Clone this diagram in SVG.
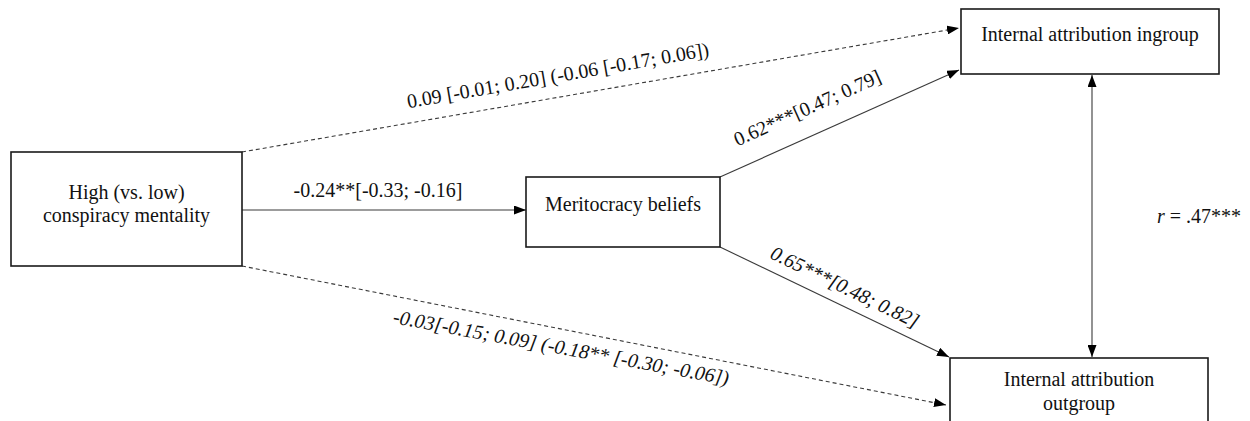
<svg xmlns="http://www.w3.org/2000/svg" width="1250" height="421" viewBox="0 0 1250 421">
<style>
.box{fill:#fff;stroke:#1a1a1a;stroke-width:1.6}
.t{font-family:"Liberation Serif","Times New Roman",serif;font-size:20px;fill:#111}
.c{text-anchor:middle}
.i{font-style:italic}
.ln{stroke:#3a3a3a;stroke-width:1.1;fill:none}
.d{stroke-dasharray:4 3}
</style>
<defs>
<marker id="ah" viewBox="0 0 12 9" refX="12" refY="4.5" markerWidth="12" markerHeight="9" markerUnits="userSpaceOnUse" orient="auto-start-reverse">
<path d="M0,0 L12,4.5 L0,9 z" fill="#000"/>
</marker>
</defs>
<rect width="1250" height="421" fill="#fff"/>
<g id="connectors">
<line class="ln" x1="242" y1="210" x2="526" y2="210" marker-end="url(#ah)"/>
<line class="ln d" x1="242" y1="152" x2="959" y2="28" marker-end="url(#ah)"/>
<line class="ln" x1="720" y1="177" x2="959" y2="70" marker-end="url(#ah)"/>
<line class="ln" x1="720" y1="247" x2="949" y2="357" marker-end="url(#ah)"/>
<line class="ln d" x1="242" y1="266" x2="946" y2="405" marker-end="url(#ah)"/>
<line class="ln" x1="1092" y1="75" x2="1092" y2="357" marker-start="url(#ah)" marker-end="url(#ah)"/>
<text class="t c" x="378" y="197">-0.24**[-0.33; -0.16]</text>
<text class="t c" x="559" y="82" transform="rotate(-9.84 559 82)">0.09 [-0.01; 0.20] (-0.06 [-0.17; 0.06])</text>
<text class="t c" x="810" y="114" transform="rotate(-24.1 810 114)">0.62***[0.47; 0.79]</text>
<text class="t c i" x="842" y="293" transform="rotate(25.8 842 293)">0.65***[0.48; 0.82]</text>
<text class="t c i" x="560" y="354" transform="rotate(10.5 560 354)">-0.03[-0.15; 0.09] (-0.18** [-0.30; -0.06])</text>
<text class="t" x="1157" y="223"><tspan class="i">r</tspan> = .47***</text>
</g>
<g id="node-conspiracy">
<rect class="box" x="11" y="152" width="231" height="114"/>
<text class="t c" x="126.5" y="199">High (vs. low)</text>
<text class="t c" x="126.5" y="222">conspiracy mentality</text>
</g>
<g id="node-meritocracy">
<rect class="box" x="526" y="177" width="194" height="70"/>
<text class="t c" x="623" y="211">Meritocracy beliefs</text>
</g>
<g id="node-ingroup">
<rect class="box" x="961" y="9" width="258" height="65"/>
<text class="t c" x="1090" y="41">Internal attribution ingroup</text>
</g>
<g id="node-outgroup">
<rect class="box" x="950" y="358" width="258" height="80"/>
<text class="t c" x="1079" y="386">Internal attribution</text>
<text class="t c" x="1079" y="410">outgroup</text>
</g>
</svg>
